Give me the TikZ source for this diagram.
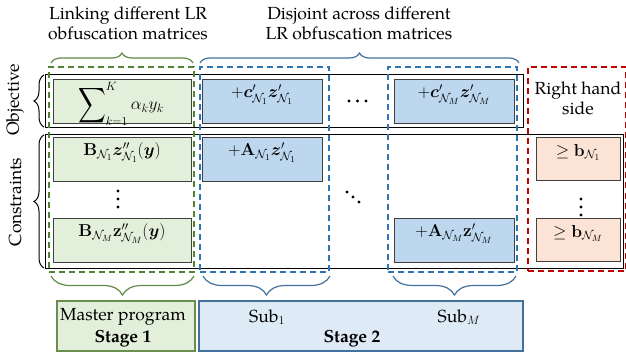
\documentclass[tikz,border=0pt]{standalone}
\usepackage{amsmath,amssymb,bm}
\usepackage[no-math]{fontspec}
\setmainfont{texgyrepagella}[Extension=.otf,UprightFont=*-regular,BoldFont=*-bold,ItalicFont=*-italic,BoldItalicFont=*-bolditalic]
\usetikzlibrary{fit,shadows,decorations.pathreplacing}
\definecolor{gfill}{HTML}{E2EFDA}
\definecolor{bfill}{HTML}{BDD7EE}
\definecolor{ofill}{HTML}{FBE4D5}
\definecolor{gdashc}{HTML}{548235}
\definecolor{bdashc}{HTML}{2E75B6}
\definecolor{rdashc}{HTML}{C00000}
\definecolor{sgborder}{HTML}{6A8E4E}
\definecolor{sbfill}{HTML}{DEEBF7}
\definecolor{sbborder}{HTML}{41719C}
\definecolor{gbracec}{HTML}{5E8A45}
\definecolor{bbracec}{HTML}{41719C}
\definecolor{boxline}{HTML}{404040}
\begin{document}
\begin{tikzpicture}[x=1pt,y=-1pt,
  font=\fontsize{17.5}{20}\selectfont,
  shad/.style={drop shadow={shadow xshift=1.2pt,shadow yshift=-1.2pt,fill=black,opacity=0.3}},
  region/.style={fit={#1},inner sep=0pt,draw=black,line width=0.8pt,fill=white,shad},
  cell/.style={inner sep=0pt,draw=boxline,line width=0.9pt,shad},
  dbox/.style={fit={#1},inner sep=0pt,line width=1.3pt,dash pattern=on 6pt off 4pt},
  gbrace/.style={draw=gbracec,line width=1.2pt,decorate},
  bbrace/.style={draw=bbracec,line width=1.2pt,decorate},
  kbrace/.style={draw=black,line width=1pt,decorate,decoration={brace,amplitude=10pt}},
  lbl/.style={align=center,inner sep=0pt},
  dot/.style={circle,fill=black,inner sep=0pt,minimum size=3.4pt}
]
\useasboundingbox (0,0) rectangle (626,358);

% outer regions
\node[region={(45,74)(523,127)}] (objreg) {};
\node[region={(45,134)(623,268)}] (conreg) {};

% objective row
\node[cell,fill=gfill,fit={(53,79)(191,123)}] (sum) {};
\node[inner sep=0pt] (sumtxt) at (121,104) {$\displaystyle\mathop{\vcenter{\hbox{\scalebox{1.1}[1.4]{$\displaystyle\sum$}}}}\nolimits_{k=1}^{K}\alpha_k y_k$};
\node[cell,fill=bfill,fit={(202,79)(322,123)}] (c1) {$+\bm{c}'_{\mathcal{N}_1}\bm{z}'_{\mathcal{N}_1}$};
\node[cell,fill=bfill,fit={(394,79)(514,123)}] (cM) {$+\bm{c}'_{\mathcal{N}_M}\bm{z}'_{\mathcal{N}_M}$};
\node[dot] (h1) at (349,101) {};
\node[dot] (h2) at (357.5,101) {};
\node[dot] (h3) at (366,101) {};

% constraints rows
\node[cell,fill=gfill,fit={(53,137)(191,181)}] (B1) {$\mathbf{B}_{\mathcal{N}_1}\bm{z}''_{\mathcal{N}_1}(\bm{y})$};
\node[cell,fill=gfill,fit={(53,218)(191,262)}] (BM) {$\mathbf{B}_{\mathcal{N}_M}\mathbf{z}''_{\mathcal{N}_M}(\bm{y})$};
\node[cell,fill=bfill,fit={(202,137)(322,181)}] (A1) {$+\mathbf{A}_{\mathcal{N}_1}\bm{z}'_{\mathcal{N}_1}$};
\node[cell,fill=bfill,fit={(394,218)(514,262)}] (AM) {$+\mathbf{A}_{\mathcal{N}_M}\mathbf{z}'_{\mathcal{N}_M}$};
\node[cell,fill=ofill,fit={(536,137)(620,180)}] (b1) {$\geq\mathbf{b}_{\mathcal{N}_1}$};
\node[cell,fill=ofill,fit={(536,218)(620,261)}] (bM) {$\geq\mathbf{b}_{\mathcal{N}_M}$};
\node[dot] (v1) at (118,191) {};
\node[dot] (v2) at (118,199) {};
\node[dot] (v3) at (118,207) {};
\node[dot] (d1) at (347,192) {};
\node[dot] (d2) at (353,197) {};
\node[dot] (d3) at (359,202) {};
\node[dot] (w1) at (581,199) {};
\node[dot] (w2) at (581,207) {};
\node[dot] (w3) at (581,215) {};

% dashed groupings
\node[dbox={(49,67)(194,272)},draw=gdashc] (gd) {};
\node[dbox={(200,67)(329,272)},draw=bdashc] (bd1) {};
\node[dbox={(388,67)(517,272)},draw=bdashc] (bd2) {};
\node[dbox={(528,67)(625.5,271)},draw=rdashc] (rd) {};

% left labels and braces
\node[rotate=90] (objlbl) at (15,100) {Objective};
\node[rotate=90] (conlbl) at (15,202) {Constraints};
\coordinate (ob1) at (44,127); \coordinate (ob2) at (44,75);
\coordinate (cb1) at (44,268); \coordinate (cb2) at (44,135);
\draw[kbrace] (ob1) -- (ob2);
\draw[kbrace] (cb1) -- (cb2);

% top labels and braces
\node[lbl] (toplbl1) at (128,23) {Linking different LR\\obfuscation matrices};
\node[lbl] (toplbl2) at (359,23) {Disjoint across different\\LR obfuscation matrices};
\node[lbl] (rhs) at (578,98) {Right hand\\side};
\coordinate (tg1) at (51,63); \coordinate (tg2) at (193,63);
\coordinate (tb1) at (200,63); \coordinate (tb2) at (519,63);
\draw[gbrace,decoration={brace,amplitude=10pt}] (tg1) -- (tg2);
\draw[bbrace,decoration={brace,amplitude=10pt}] (tb1) -- (tb2);

% bottom braces
\coordinate (bg1) at (194,276); \coordinate (bg2) at (51,276);
\coordinate (bb1) at (330,276); \coordinate (bb2) at (203,276);
\coordinate (bm1) at (516,276); \coordinate (bm2) at (393,276);
\draw[gbrace,decoration={brace,amplitude=19pt}] (bg1) -- (bg2);
\draw[bbrace,decoration={brace,amplitude=19pt}] (bb1) -- (bb2);
\draw[bbrace,decoration={brace,amplitude=19pt}] (bm1) -- (bm2);

% stage boxes
\node[fit={(57,301)(195,351)},inner sep=0pt,draw=sgborder,line width=1.2pt,fill=gfill,shad] (st1) {};
\node[fit={(199,301)(523,351)},inner sep=0pt,draw=sbborder,line width=1.2pt,fill=sbfill,shad] (st2) {};
\node (master) at (123,317) {Master program};
\node (stage1) at (123,339) {\bfseries Stage 1};
\node (sub1) at (267,317) {Sub$_1$};
\node (subM) at (459,317) {Sub$_M$};
\node (stage2) at (352,339) {\bfseries Stage 2};
\end{tikzpicture}
\end{document}
